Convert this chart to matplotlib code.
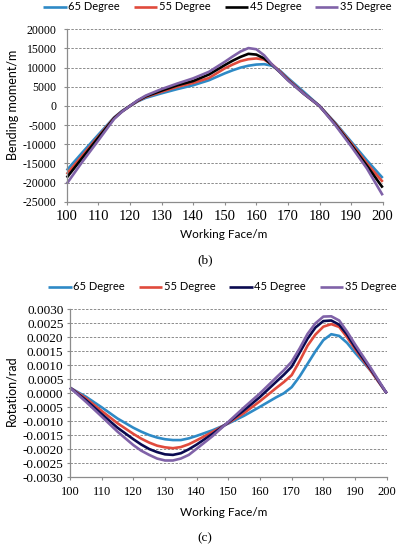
import matplotlib
matplotlib.use("Agg")
import matplotlib.pyplot as plt
from matplotlib.ticker import MultipleLocator, FormatStrFormatter

plt.rcParams['axes.unicode_minus'] = False

W, H = 398, 550
SANS = "Lato"
SERIF = "Liberation Serif"

labels = ["65 Degree", "55 Degree", "45 Degree", "35 Degree"]
colors_b = ["#2E8AC6", "#E04A3C", "#000000", "#8062A8"]
colors_c = ["#2E8AC6", "#E04A3C", "#0A0A50", "#8062A8"]

# (b) bending moment along the working face
moment_x = [100, 105, 110, 115, 117.5, 120, 122.5, 125, 130, 135, 140, 145, 150, 152.5,
            155, 157.5, 160, 162.5, 165, 167.5, 170, 175, 180, 185, 190, 195, 200]
moment_65 = [-16800, -12100, -7500, -3000, -1300, 0, 1200, 2100, 3300, 4400, 5400, 6700,
             8500, 9300, 10000, 10500, 10800, 10900, 10500, 9200, 7300, 3700, 0,
             -4400, -9300, -14200, -18800]
moment_55 = [-17800, -12900, -8000, -3100, -1400, 0, 1300, 2350, 3700, 5000, 6000, 7300,
             9800, 10800, 11700, 12200, 12400, 12100, 10800, 9000, 7000, 3300, 0,
             -4600, -9700, -15000, -19800]
moment_45 = [-18700, -13500, -8300, -3200, -1450, 0, 1400, 2500, 4000, 5400, 6500, 8200,
             10650, 11800, 12800, 13600, 13400, 12400, 10700, 8800, 6800, 3200, 0,
             -4800, -10100, -15600, -21300]
moment_35 = [-20300, -14500, -9000, -3400, -1500, 0, 1500, 2700, 4400, 5850, 7200, 8900,
             11500, 12900, 14200, 15100, 14800, 13200, 10800, 8800, 6700, 3200, 0,
             -5000, -10500, -16300, -23300]

# (c) rotation along the working face
rot_x = [100, 105, 110, 115, 120, 122.5, 125, 127.5, 130, 132.5, 135, 137.5, 140, 145,
         150, 155, 160, 165, 167.5, 170, 172.5, 175, 177.5, 180, 182.5, 185, 187.5,
         190, 195, 200]
rot_65 = [0.0002, -0.00012, -0.0005, -0.0009, -0.00123, -0.00137, -0.00149, -0.00158,
          -0.00164, -0.00167, -0.00167, -0.00161, -0.00152, -0.00132, -0.00108, -0.0008,
          -0.00048, -0.00015, 0.0, 0.00022, 0.0006, 0.00105, 0.0015, 0.0019, 0.00211,
          0.00205, 0.0018, 0.00145, 0.0008, 0.0]
rot_55 = [0.0002, -0.00018, -0.00063, -0.00107, -0.00145, -0.00162, -0.00176, -0.00187,
          -0.00193, -0.00196, -0.00192, -0.00182, -0.00168, -0.00138, -0.00106, -0.0007,
          -0.00028, 0.00018, 0.0004, 0.00065, 0.00115, 0.0017, 0.0021, 0.00238, 0.00247,
          0.00237, 0.002, 0.00158, 0.0008, 0.0]
rot_45 = [0.0002, -0.00024, -0.00074, -0.00123, -0.00164, -0.00183, -0.00199, -0.0021,
          -0.00218, -0.0022, -0.00214, -0.002, -0.00183, -0.00145, -0.00104, -0.0006,
          -0.00013, 0.0004, 0.00066, 0.00095, 0.00145, 0.00195, 0.00235, 0.00258, 0.0026,
          0.00245, 0.0021, 0.00165, 0.00085, 0.0]
rot_35 = [0.0002, -0.0003, -0.00083, -0.00137, -0.00185, -0.00205, -0.0022, -0.00233,
          -0.0024, -0.0024, -0.00233, -0.0022, -0.00198, -0.00153, -0.00102, -0.0005,
          0.0, 0.00055, 0.00082, 0.00113, 0.0016, 0.00212, 0.0025, 0.00274, 0.00275,
          0.0026, 0.0022, 0.00175, 0.0009, 0.0]

x_ticks = list(range(100, 201, 10))


def px_box(left, top, right, bottom):
    return [left / W, 1 - bottom / H, (right - left) / W, (bottom - top) / H]


def style_axes(ax, xtick_size, ytick_size, ypad):
    for s in ["top", "right"]:
        ax.spines[s].set_visible(False)
    for s in ["left", "bottom"]:
        ax.spines[s].set_color("#8c8c8c")
        ax.spines[s].set_linewidth(0.9)
    ax.grid(axis="y", color="#8c8c8c", linestyle=(0, (2.5, 1.5)), linewidth=0.7)
    ax.set_axisbelow(True)
    ax.set_xlim(100, 200)
    ax.set_xticks(x_ticks)
    ax.tick_params(direction="out", length=2.2, width=0.8, color="#8c8c8c")
    ax.tick_params(axis="x", pad=4, labelsize=xtick_size)
    ax.tick_params(axis="y", pad=ypad, labelsize=ytick_size)
    for t in ax.get_xticklabels() + ax.get_yticklabels():
        t.set_fontfamily(SERIF)


fig = plt.figure(figsize=(W / 100, H / 100), dpi=100)

# ---- (b) ----
ax1 = fig.add_axes(px_box(66.7, 29.3, 382.7, 201.8))
series_b = [moment_65, moment_55, moment_45, moment_35]
lines_b = []
for vals, c, lab in zip(series_b, colors_b, labels):
    ln, = ax1.plot(moment_x, vals, color=c, lw=1.9, label=lab, clip_on=False,
                   solid_capstyle="butt", solid_joinstyle="round")
    lines_b.append(ln)
ax1.set_ylim(-25000, 20000)
ax1.yaxis.set_major_locator(MultipleLocator(5000))
style_axes(ax1, 10.5, 8.5, 5)
fig.text(13 / W, 1 - 105 / H, "Bending moment/m", rotation=90, ha="center", va="center",
         fontsize=9, family=SANS)
fig.text(224 / W, 1 - 235 / H, "Working Face/m", ha="center", va="center",
         fontsize=8.5, family=SANS)
fig.text(205 / W, 1 - 260 / H, "(b)", ha="center", va="center", fontsize=9.5, family=SERIF)
fig.legend(handles=lines_b, labels=labels, loc="center", bbox_to_anchor=(217.5 / W, 1 - 7 / H),
           ncol=4, frameon=False, prop={"family": SANS, "size": 8}, handlelength=2.1,
           handletextpad=0.15, columnspacing=1.25, borderpad=0, borderaxespad=0)

# ---- (c) ----
ax2 = fig.add_axes(px_box(70, 309.3, 386.7, 477.3))
series_c = [rot_65, rot_55, rot_45, rot_35]
lines_c = []
for vals, c, lab in zip(series_c, colors_c, labels):
    ln, = ax2.plot(rot_x, vals, color=c, lw=1.9, label=lab, clip_on=False,
                   solid_capstyle="butt", solid_joinstyle="round")
    lines_c.append(ln)
ax2.set_ylim(-0.003, 0.003)
ax2.yaxis.set_major_locator(MultipleLocator(0.0005))
ax2.yaxis.set_major_formatter(FormatStrFormatter("%.4f"))
style_axes(ax2, 9, 9.5, 2.5)
fig.text(11 / W, 1 - 391 / H, "Rotation/rad", rotation=90, ha="center", va="center",
         fontsize=9, family=SANS)
fig.text(224 / W, 1 - 513 / H, "Working Face/m", ha="center", va="center",
         fontsize=8.5, family=SANS)
fig.text(205 / W, 1 - 538 / H, "(c)", ha="center", va="center", fontsize=9.5, family=SERIF)
fig.legend(handles=lines_c, labels=labels, loc="center", bbox_to_anchor=(222.4 / W, 1 - 287 / H),
           ncol=4, frameon=False, prop={"family": SANS, "size": 8}, handlelength=2.1,
           handletextpad=0.15, columnspacing=1.25, borderpad=0, borderaxespad=0)

fig.savefig("out.png", dpi=100)
